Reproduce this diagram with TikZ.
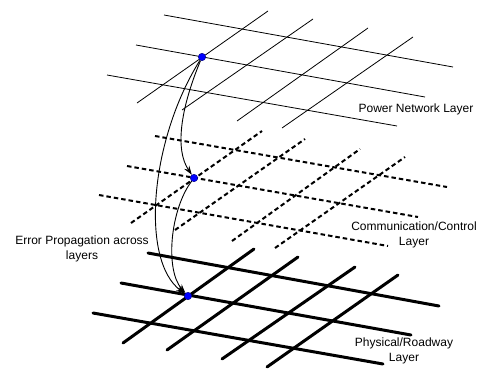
\documentclass[tikz,border=0pt]{standalone}
\usepackage{fontspec}
\setmainfont{Liberation Sans}
\usetikzlibrary{arrows.meta}
\begin{document}
\begin{tikzpicture}[x=1pt,y=-1pt,
  thinline/.style={line width=0.8pt},
  dashline/.style={line width=2pt,dash pattern=on 4.5pt off 3pt},
  thickline/.style={line width=3pt,line cap=round},
  dot/.style={circle,fill=blue,draw=blue!50!black,line width=0.4pt,inner sep=0pt,minimum size=7.5pt},
  prop/.style={line width=0.9pt,-{Stealth[length=9pt,width=6pt]}},
  lbl/.style={font=\fontsize{12}{14.5}\selectfont,align=center,inner sep=0pt}]
\useasboundingbox (0,0) rectangle (478,370);
% top layer
\draw[thinline] (164,15)--(453,67);
\draw[thinline] (136,45)--(425,97);
\draw[thinline] (107,75)--(397,126);
\draw[thinline] (137,103)--(268,11);
\draw[thinline] (182,110)--(313,19);
\draw[thinline] (237,121)--(368,28);
\draw[thinline] (282,128)--(413,37);
% middle layer
\draw[dashline] (155,136)--(447,187);
\draw[dashline] (127,166)--(418,217);
\draw[dashline] (99,195)--(388,246);
\draw[dashline] (131,223)--(262,131);
\draw[dashline] (175,230)--(305,139);
\draw[dashline] (232,241)--(360,149);
\draw[dashline] (275,248)--(405,157);
% bottom layer
\draw[thickline] (148,253)--(439,306);
\draw[thickline] (121,283)--(411,335);
\draw[thickline] (93,313)--(383,364);
\draw[thickline] (123,343)--(254,249);
\draw[thickline] (167,350)--(298,257);
\draw[thickline] (222,359)--(355,267);
\draw[thickline] (267,367)--(398,275);
% dots
\node[dot] (top) at (202,57) {};
\node[dot] (mid) at (194,178) {};
\node[dot] (bot) at (188,296) {};
% propagation arrows
\draw[prop] (top) .. controls (180,110) and (175,150) .. (mid);
\draw[prop] (top) .. controls (150,140) and (140,260) .. (bot);
\draw[prop] (mid) .. controls (170,210) and (165,270) .. (bot);
% labels
\node[lbl] (lpow) at (416,109) {Power Network Layer};
\node[lbl] (lcom) at (414,235) {Communication/Control\\Layer};
\node[lbl] (lerr) at (82,249) {Error Propagation across\\layers};
\node[lbl] (lphy) at (404,351) {Physical/Roadway\\Layer};
\end{tikzpicture}
\end{document}
